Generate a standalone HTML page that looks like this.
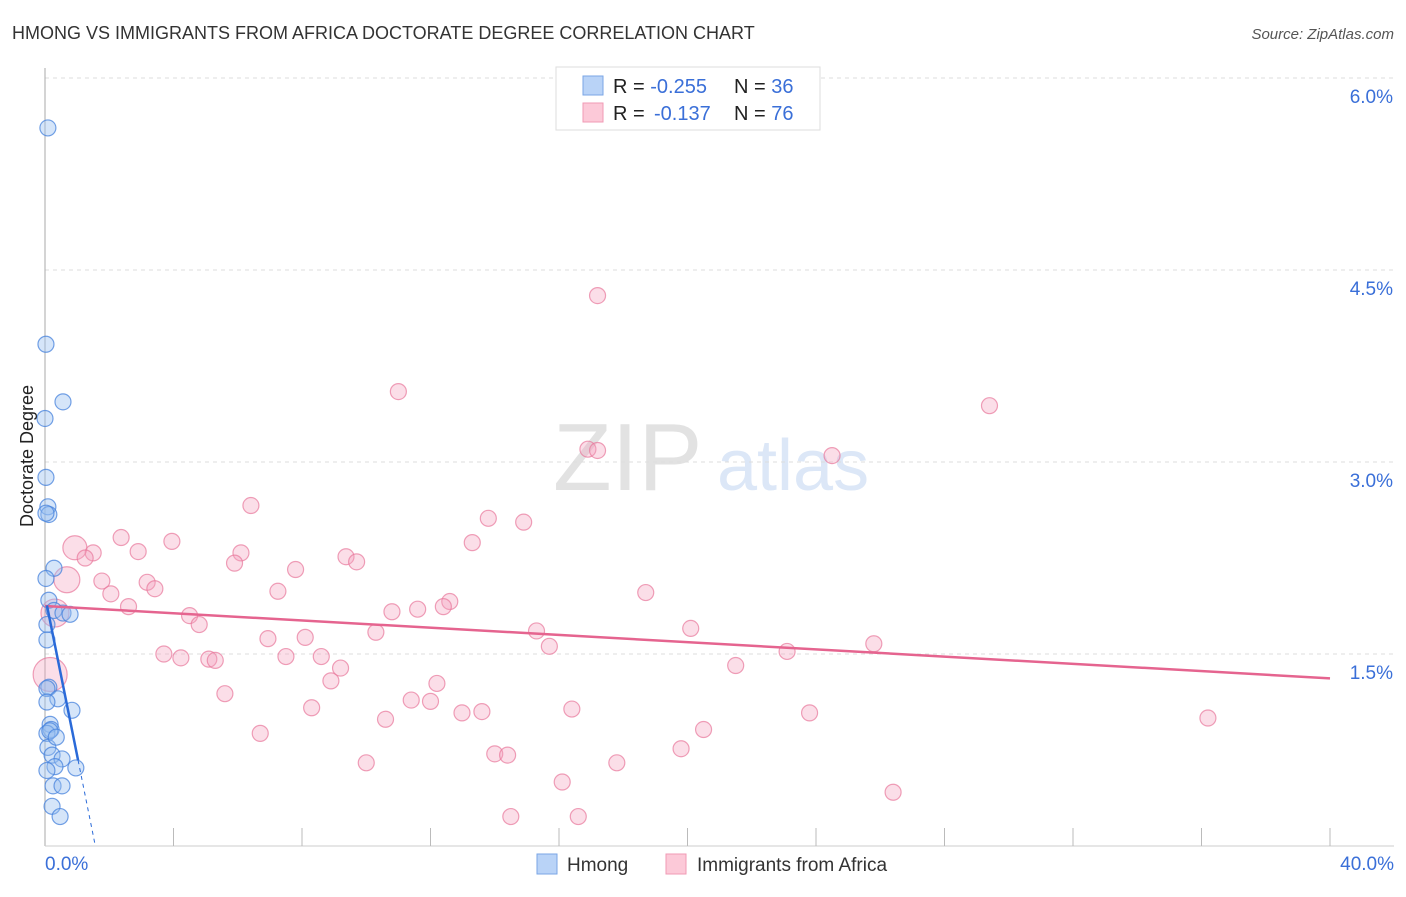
<!DOCTYPE html>
<html><head><meta charset="utf-8"><style>
body{margin:0;background:#fff;font-family:"Liberation Sans",sans-serif;}
svg text{font-family:"Liberation Sans",sans-serif;}
</style></head><body>
<svg id="chart" width="1406" height="892" xmlns="http://www.w3.org/2000/svg">
<text x="12" y="39" font-size="18" fill="#333">HMONG VS IMMIGRANTS FROM AFRICA DOCTORATE DEGREE CORRELATION CHART</text>
<text x="1394" y="39" font-size="15" fill="#555" text-anchor="end" font-style="italic">Source: ZipAtlas.com</text>
<g>
<text x="553" y="490" font-size="96" fill="#e2e2e2" font-family="Liberation Serif,serif">ZIP</text>
<text x="717" y="490" font-size="72" fill="#dce7f7">atlas</text>
</g>
<g id="grid"></g>
<g id="axes"></g>
<g id="pts"></g>
<g id="trend"></g>
<text transform="translate(33,456) rotate(-90)" font-size="18" fill="#222" text-anchor="middle">Doctorate Degree</text>
<g>
<rect x="556" y="67" width="264" height="63" fill="#fff" stroke="#ddd"/>
<rect x="583" y="76" width="20" height="19" fill="#b9d3f7" stroke="#7aa6e6"/>
<rect x="583" y="103" width="20" height="19" fill="#fcc9d8" stroke="#f09ab4"/>
<text x="613" y="93" font-size="20" fill="#222">R = <tspan fill="#3a6fd8">-0.255</tspan><tspan x="734">N = </tspan><tspan fill="#3a6fd8">36</tspan></text>
<text x="613" y="120" font-size="20" fill="#222">R = <tspan x="654" fill="#3a6fd8">-0.137</tspan><tspan x="734">N = </tspan><tspan fill="#3a6fd8">76</tspan></text>
</g>
<g>
<rect x="537" y="854" width="20" height="20" fill="#b9d3f7" stroke="#7aa6e6"/>
<text x="567" y="871" font-size="19" fill="#333">Hmong</text>
<rect x="666" y="854" width="20" height="20" fill="#fcc9d8" stroke="#f09ab4"/>
<text x="697" y="871" font-size="19" fill="#333">Immigrants from Africa</text>
</g>
</svg>
<script>
const xTicks=[0,40];
const yTicks=[1.5,3.0,4.5,6.0];
const blueX=[0.09,0.03,0.56,0.0,0.03,0.09,0.12,0.28,0.03,0.12,0.28,0.56,0.78,0.06,0.06,0.12,0.06,0.4,0.84,0.06,0.16,0.19,0.06,0.09,0.22,0.53,0.31,0.06,0.96,0.25,0.53,0.22,0.47,0.03,0.15,0.35];
const blueY=[5.61,3.92,3.47,3.34,2.88,2.65,2.59,2.17,2.09,1.92,1.84,1.82,1.81,1.73,1.61,1.24,1.23,1.15,1.06,1.125,0.95,0.91,0.88,0.77,0.71,0.68,0.62,0.59,0.61,0.47,0.47,0.31,0.23,2.6,0.9,0.85];
const pinkX=[17.2,11.0,29.4,16.9,17.2,24.5,6.41,13.8,14.9,2.37,3.95,13.3,0.93,6.1,2.9,1.5,1.25,9.37,9.7,5.9,7.8,0.68,1.77,3.18,3.42,7.25,18.7,2.05,12.6,12.4,11.6,10.8,2.6,0.31,4.5,4.8,20.1,15.3,10.3,6.94,8.1,15.7,25.8,23.1,3.7,4.23,5.1,5.3,7.5,8.6,9.2,21.5,0.16,8.9,12.2,5.6,11.4,12.0,8.3,16.4,12.98,13.6,23.8,10.6,36.2,20.5,6.7,19.8,14.0,14.4,10.0,17.8,16.1,26.4,14.5,16.6];
const pinkY=[4.30,3.55,3.44,3.10,3.09,3.05,2.66,2.56,2.53,2.41,2.38,2.37,2.33,2.29,2.30,2.29,2.25,2.26,2.22,2.21,2.16,2.08,2.07,2.06,2.01,1.99,1.98,1.97,1.91,1.87,1.85,1.83,1.87,1.82,1.80,1.73,1.70,1.68,1.67,1.62,1.63,1.56,1.58,1.52,1.50,1.47,1.46,1.45,1.48,1.48,1.39,1.41,1.34,1.29,1.27,1.19,1.14,1.13,1.08,1.07,1.04,1.05,1.04,0.99,1.00,0.91,0.88,0.76,0.72,0.71,0.65,0.65,0.50,0.42,0.23,0.23];
const pinkR=[8,8,8,8,8,8,8,8,8,8,8,8,12,8,8,8,8,8,8,8,8,13,8,8,8,8,8,8,8,8,8,8,8,14,8,8,8,8,8,8,8,8,8,8,8,8,8,8,8,8,8,8,17,8,8,8,8,8,8,8,8,8,8,8,8,8,8,8,8,8,8,8,8,8,8,8];
const pinkTrend=[1.875,1.31];
const blueTrend=[1.88,0.67];
const blueTrendX=[0.06,1.03];
const NS="http://www.w3.org/2000/svg";
function sx(v){return 45+v/40*1285;}
function sy(v){return 846-v*128;}
function mk(t,a,p){const e=document.createElementNS(NS,t);for(const k in a)e.setAttribute(k,a[k]);p.appendChild(e);return e;}
const grid=document.getElementById('grid'),axes=document.getElementById('axes'),pts=document.getElementById('pts'),tr=document.getElementById('trend');
yTicks.forEach(v=>{
 const l=mk('line',{x1:45,x2:1394,y1:sy(v),y2:sy(v),stroke:'#ddd','stroke-dasharray':'4,4'},grid);
 
 
 const t=mk('text',{x:1393,y:sy(v)+25,'font-size':19,fill:'#3a6fd8','text-anchor':'end'},grid);
 t.textContent=v.toFixed(1)+'%';
 
 
});
const ya=mk('line',{x1:45,x2:45,y1:68,y2:846,stroke:'#aaa'},axes);


const xa=mk('line',{x1:45,x2:1394,y1:846,y2:846,stroke:'#ccc'},axes);


for(let i=1;i<=10;i++){
 const tk=mk('line',{x1:sx(i*4),x2:sx(i*4),y1:828,y2:846,stroke:'#bbb'},axes);
 
 
}
xTicks.forEach((v,i)=>{
 const t=mk('text',{x:i?1394:45,y:870,'font-size':19,fill:'#3a6fd8','text-anchor':i?'end':'start'},axes);
 t.textContent=v.toFixed(1)+'%';
 
 
});
pinkX.forEach((x,i)=>{
 const c=mk('circle',{cx:sx(x),cy:sy(pinkY[i]),r:pinkR[i],fill:'rgba(244,160,188,0.35)',stroke:'rgba(232,120,155,0.7)','stroke-width':1.2},pts);
 
 
});
blueX.forEach((x,i)=>{
 const c=mk('circle',{cx:sx(x),cy:sy(blueY[i]),r:8,fill:'rgba(150,190,240,0.4)',stroke:'rgba(70,130,220,0.75)','stroke-width':1.2},pts);
 
 
});
const pl=mk('line',{x1:sx(0),y1:sy(pinkTrend[0]),x2:sx(40),y2:sy(pinkTrend[1]),stroke:'#e5648f','stroke-width':2.5},tr);


const slope=(blueTrend[1]-blueTrend[0])/(blueTrendX[1]-blueTrendX[0]);
const x0=blueTrendX[1]-blueTrend[1]/slope;
const bl=mk('line',{x1:sx(blueTrendX[0]),y1:sy(blueTrend[0]),x2:sx(blueTrendX[1]),y2:sy(blueTrend[1]),stroke:'#2a6ad8','stroke-width':2.5},tr);


const bd=mk('line',{x1:sx(blueTrendX[1]),y1:sy(blueTrend[1]),x2:sx(x0),y2:sy(0),stroke:'#2a6ad8','stroke-width':1,'stroke-dasharray':'4,4'},tr);


</script>
</body></html>
